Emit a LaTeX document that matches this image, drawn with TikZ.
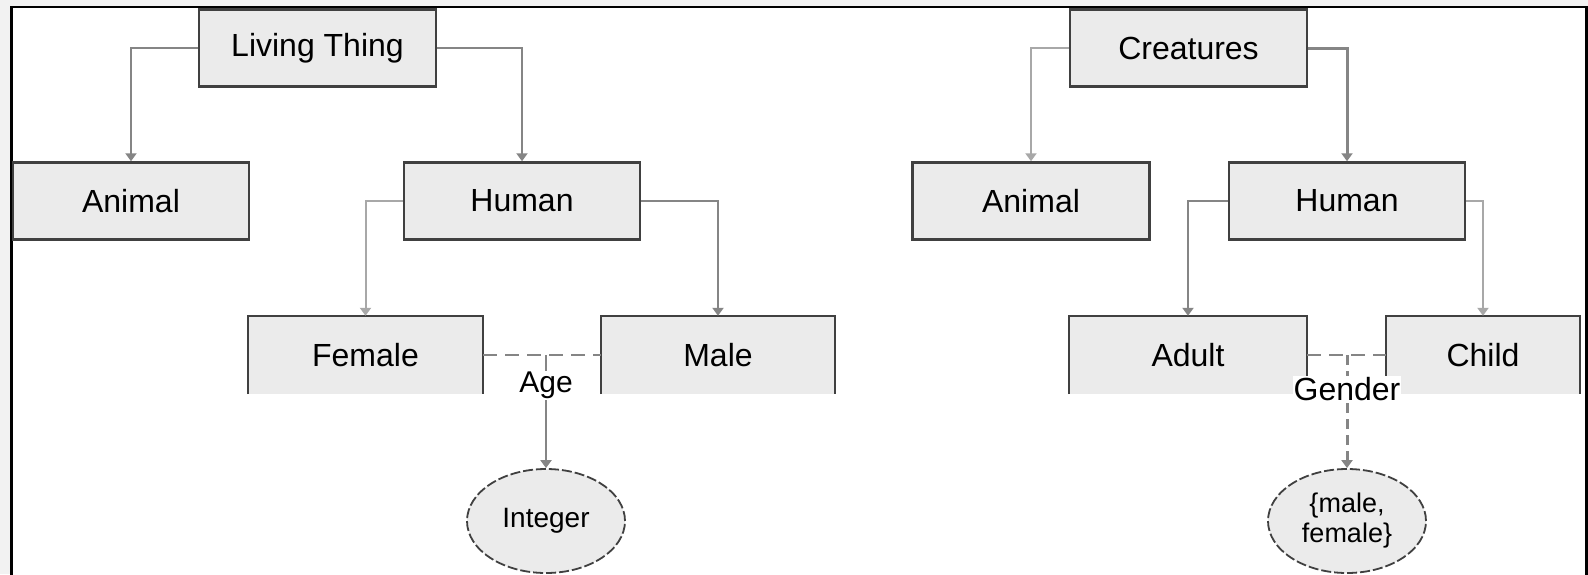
\documentclass[tikz,border=0pt]{standalone}
\usepackage{fontspec}
\setmainfont{Liberation Sans}
\usetikzlibrary{arrows.meta,shapes.geometric}
\definecolor{boxfill}{HTML}{EBEBEB}
\definecolor{boxline}{HTML}{404040}
\definecolor{connc}{HTML}{858585}
\definecolor{lightc}{HTML}{A8A8A8}
\definecolor{outerc}{HTML}{F2F2F2}
\begin{document}
\begin{tikzpicture}[x=1pt,y=-1pt,
  box/.style={draw=boxline, fill=boxfill, line width=2.5pt, minimum height=77pt, inner sep=0pt, font=\fontsize{32}{38}\selectfont},
  openbox/.style={fill=boxfill, minimum height=78pt, inner sep=0pt, font=\fontsize{32}{38}\selectfont},
  sides/.style={draw=boxline, line width=2.5pt},
  link/.style={draw=connc, line width=2pt, -{Triangle[width=11pt,length=8pt]}},
  lightlink/.style={link, draw=lightc},
  rel/.style={draw=connc, line width=2pt, dash pattern=on 14pt off 8pt},
  valnode/.style={ellipse, draw=boxline, fill=boxfill, line width=1.8pt, dash pattern=on 10pt off 3pt, minimum width=158pt, minimum height=104pt, inner sep=0pt, align=center},
  lbl/.style={fill=white, inner sep=1pt}
]
\useasboundingbox (0,0) rectangle (1588,574);
\clip (0,0) rectangle (1588,574);
\fill[outerc] (0,0) rectangle (1588,574);
\draw[black, line width=2.7pt, fill=white] (11.5,7) rectangle (1586.6,620);

% ---- left tree ----
\node[box, minimum width=237pt] (LT) at (317.5,48) {Living Thing};
\node[box, minimum width=236pt] (A1) at (131,201) {Animal};
\node[box, minimum width=236pt] (H1) at (522,201) {Human};
\node[openbox, minimum width=235pt] (F) at (365.5,355) {Female};
\node[openbox, minimum width=234pt] (M) at (718,355) {Male};
\draw[sides] (F.south west) -- (F.north west) -- (F.north east) -- (F.south east);
\draw[sides] (M.south west) -- (M.north west) -- (M.north east) -- (M.south east);
\node[valnode, font=\fontsize{28}{32}\selectfont] (I) at (546,521) {Integer};

\draw[link] (LT.west) -| (A1.north);
\draw[link] (LT.east) -| (H1.north);
\draw[lightlink] (H1.west) -| (F.north);
\draw[link] (H1.east) -| (M.north);
\draw[rel] (F.east) -- (M.west);
\draw[link] (F.east -| I.north) -- node[lbl, pos=0.27, font=\fontsize{30}{34}\selectfont] {Age} (I.north);

% ---- right tree ----
\node[box, minimum width=237pt] (CR) at (1188.5,48) {Creatures};
\node[box, minimum width=237pt] (A2) at (1031,201) {Animal};
\node[box, minimum width=236pt] (H2) at (1347,201) {Human};
\node[openbox, minimum width=238pt] (AD) at (1188,355) {Adult};
\node[openbox, minimum width=194pt] (CH) at (1483,355) {Child};
\draw[sides] (AD.south west) -- (AD.north west) -- (AD.north east) -- (AD.south east);
\draw[sides] (CH.south west) -- (CH.north west) -- (CH.north east) -- (CH.south east);
\node[valnode, font=\fontsize{27}{30}\selectfont] (MF) at (1347,521) {\{male,\\female\}};

\draw[lightlink] (CR.west) -| (A2.north);
\draw[link, line width=3pt] (CR.east) -| (H2.north);
\draw[link] (H2.west) -| (AD.north);
\draw[lightlink] (H2.east) -| (CH.north);
\draw[rel] (AD.east) -- (CH.west);
\draw[link, line width=3pt, dash pattern=on 10pt off 6pt] (AD.east -| MF.north) -- node[lbl, pos=0.3, font=\fontsize{32}{36}\selectfont] {Gender} (MF.north);
\end{tikzpicture}
\end{document}
